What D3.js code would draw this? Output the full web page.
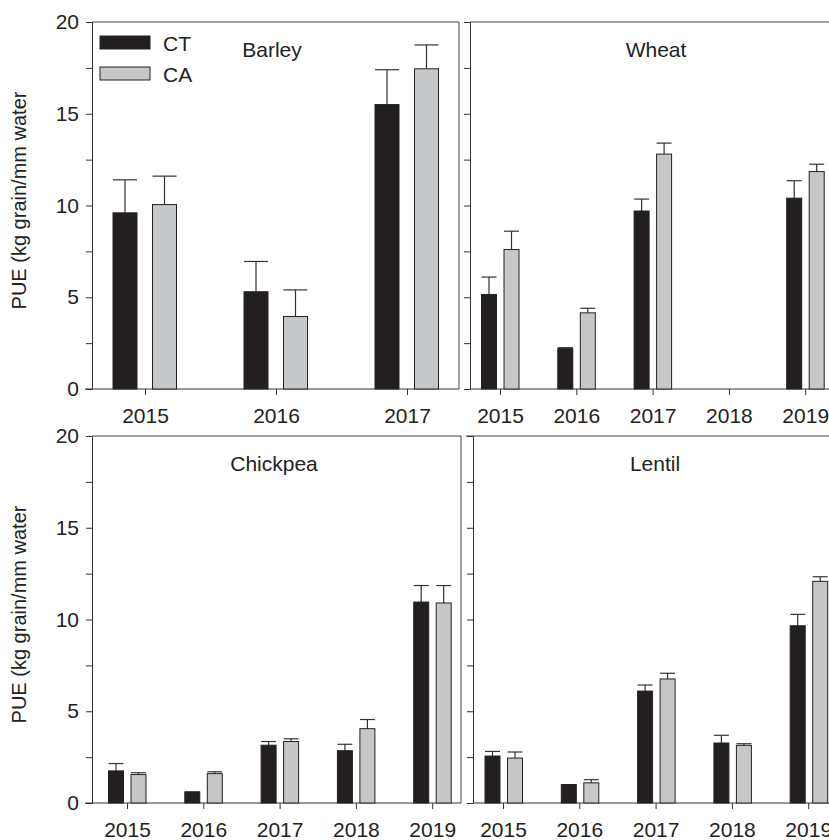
<!doctype html>
<html>
<head>
<meta charset="utf-8">
<script src="https://d3js.org/d3.v7.min.js"></script>
<style>
  body { margin: 0; background: #fff; }
  svg text { font-family: "Liberation Sans", Arial, sans-serif; fill: #222; }
</style>
</head>
<body>
<svg id="chart" width="829" height="840"></svg>
<script>
// ---- data ----
var barleyYears = ["2015", "2016", "2017"];
var barleyCT = [9.6, 5.3, 15.5];
var barleyCTerr = [11.4, 6.95, 17.4];
var barleyCA = [10.05, 3.95, 17.45];
var barleyCAerr = [11.6, 5.4, 18.75];

var years = ["2015", "2016", "2017", "2018", "2019"];
var wheatCT = [5.15, 2.2, 9.7, null, 10.4];
var wheatCTerr = [6.1, 2.25, 10.35, null, 11.35];
var wheatCA = [7.6, 4.15, 12.8, null, 11.85];
var wheatCAerr = [8.6, 4.4, 13.4, null, 12.25];

var chickpeaCT = [1.75, 0.6, 3.15, 2.85, 10.95];
var chickpeaCTerr = [2.15, 0.6, 3.35, 3.2, 11.85];
var chickpeaCA = [1.55, 1.6, 3.35, 4.05, 10.9];
var chickpeaCAerr = [1.65, 1.7, 3.5, 4.55, 11.85];

var lentilCT = [2.56, 1.0, 6.1, 3.27, 9.66];
var lentilCTerr = [2.81, 1.0, 6.43, 3.69, 10.28];
var lentilCA = [2.45, 1.1, 6.76, 3.14, 12.08];
var lentilCAerr = [2.78, 1.27, 7.07, 3.23, 12.33];

var yTicks = [0, 5, 10, 15, 20];

var svg = d3.select("#chart");

function panel(o) {
  var g = svg.append("g");
  var y = d3.scaleLinear().domain([0, 20]).range([o.bottom, o.top]);
  var x = d3.scaleLinear().domain([0, o.cats.length - 1])
            .range([o.first, o.first + o.step * (o.cats.length - 1)]);

  // frame (top and right)
  g.append("path")
    .attr("d", "M" + o.frameLeft + "," + o.top + "H" + o.right + "V" + o.bottom)
    .attr("fill", "none").attr("stroke", "#444").attr("stroke-width", 1);

  // y axis
  var ya = d3.axisLeft(y).tickValues(d3.range(0, 20.1, 2.5)).tickSize(6)
    .tickFormat(function (d) { return o.labels && yTicks.indexOf(d) >= 0 ? d : ""; });
  var yg = g.append("g").attr("transform", "translate(" + o.left + ",0)").call(ya);
  yg.select(".domain").attr("stroke", "#333");
  yg.selectAll(".tick line").attr("stroke", "#333");
  yg.selectAll("text").style("font-size", "21px").attr("dx", "-4");

  // x axis
  var xa = d3.axisBottom(x).tickValues(d3.range(o.cats.length)).tickSize(6)
    .tickFormat(function (i) { return o.cats[i]; });
  var xg = g.append("g").attr("transform", "translate(0," + o.bottom + ")").call(xa);
  xg.select(".domain").remove();
  g.append("line").attr("x1", o.axisStart).attr("x2", o.right)
    .attr("y1", o.bottom).attr("y2", o.bottom).attr("stroke", "#333");
  xg.selectAll(".tick line").attr("stroke", "#333");
  xg.selectAll("text").style("font-size", "21px").attr("dy", "1.2em");

  var series = [
    { v: o.ct, e: o.cte, fill: "#231f20", off: o.ctOff },
    { v: o.ca, e: o.cae, fill: "#c6c7c9", off: o.caOff }
  ];
  series.forEach(function (s) {
    var idx = d3.range(o.cats.length).filter(function (i) { return s.v[i] != null; });
    g.selectAll(null).data(idx).enter().append("line")
      .attr("x1", function (i) { return x(i) + s.off; })
      .attr("x2", function (i) { return x(i) + s.off; })
      .attr("y1", function (i) { return y(s.v[i]); })
      .attr("y2", function (i) { return y(s.e[i]); })
      .attr("stroke", "#333").attr("stroke-width", 1.2);
    g.selectAll(null).data(idx).enter().append("line")
      .attr("x1", function (i) { return x(i) + s.off - o.bw / 2; })
      .attr("x2", function (i) { return x(i) + s.off + o.bw / 2; })
      .attr("y1", function (i) { return y(s.e[i]); })
      .attr("y2", function (i) { return y(s.e[i]); })
      .attr("stroke", "#333").attr("stroke-width", 1.2);
    g.selectAll(null).data(idx).enter().append("rect")
      .attr("x", function (i) { return x(i) + s.off - o.bw / 2; })
      .attr("width", o.bw)
      .attr("y", function (i) { return y(s.v[i]); })
      .attr("height", function (i) { return y(0) - y(s.v[i]); })
      .attr("fill", s.fill).attr("stroke", "#222").attr("stroke-width", 1);
  });

  g.append("text").attr("x", o.titleX).attr("y", o.top + 35)
    .attr("text-anchor", "middle").style("font-size", "21px").text(o.title);

  if (o.labels) {
    var mid = (o.top + o.bottom) / 2;
    g.append("text").attr("transform", "translate(26," + (mid - 5) + ") rotate(-90)")
      .attr("text-anchor", "middle").style("font-size", "20px")
      .text("PUE (kg grain/mm water");
  }
}

panel({ title: "Barley", titleX: 272, cats: barleyYears, ct: barleyCT, cte: barleyCTerr,
  ca: barleyCA, cae: barleyCAerr, left: 92, frameLeft: 92, axisStart: 85, right: 459, top: 22, bottom: 389,
  first: 145, step: 131, bw: 24, ctOff: -20, caOff: 19.5, labels: true });
panel({ title: "Wheat", titleX: 656, cats: years, ct: wheatCT, cte: wheatCTerr,
  ca: wheatCA, cae: wheatCAerr, left: 470, frameLeft: 470, axisStart: 470, right: 845, top: 22, bottom: 389,
  first: 500, step: 76.3, bw: 15, ctOff: -11, caOff: 11.5, labels: false });
panel({ title: "Chickpea", titleX: 274, cats: years, ct: chickpeaCT, cte: chickpeaCTerr,
  ca: chickpeaCA, cae: chickpeaCAerr, left: 92, frameLeft: 92, axisStart: 85, right: 461, top: 436, bottom: 803,
  first: 127, step: 76.3, bw: 15, ctOff: -11, caOff: 11.5, labels: true });
panel({ title: "Lentil", titleX: 655, cats: years, ct: lentilCT, cte: lentilCTerr,
  ca: lentilCA, cae: lentilCAerr, left: 473, frameLeft: 466, axisStart: 473, right: 845, top: 436, bottom: 803,
  first: 503, step: 76.3, bw: 15, ctOff: -10.5, caOff: 12, labels: false });

// legend
var legend = [{ name: "CT", fill: "#231f20" }, { name: "CA", fill: "#c6c7c9" }];
var lg = svg.append("g");
lg.selectAll("rect").data(legend).enter().append("rect")
  .attr("x", 100).attr("y", function (d, i) { return 36 + i * 31; })
  .attr("width", 50).attr("height", 13)
  .attr("fill", function (d) { return d.fill; }).attr("stroke", "#222");
lg.selectAll("text").data(legend).enter().append("text")
  .attr("x", 163).attr("y", function (d, i) { return 51 + i * 31; })
  .style("font-size", "21px").text(function (d) { return d.name; });
</script>
</body>
</html>
